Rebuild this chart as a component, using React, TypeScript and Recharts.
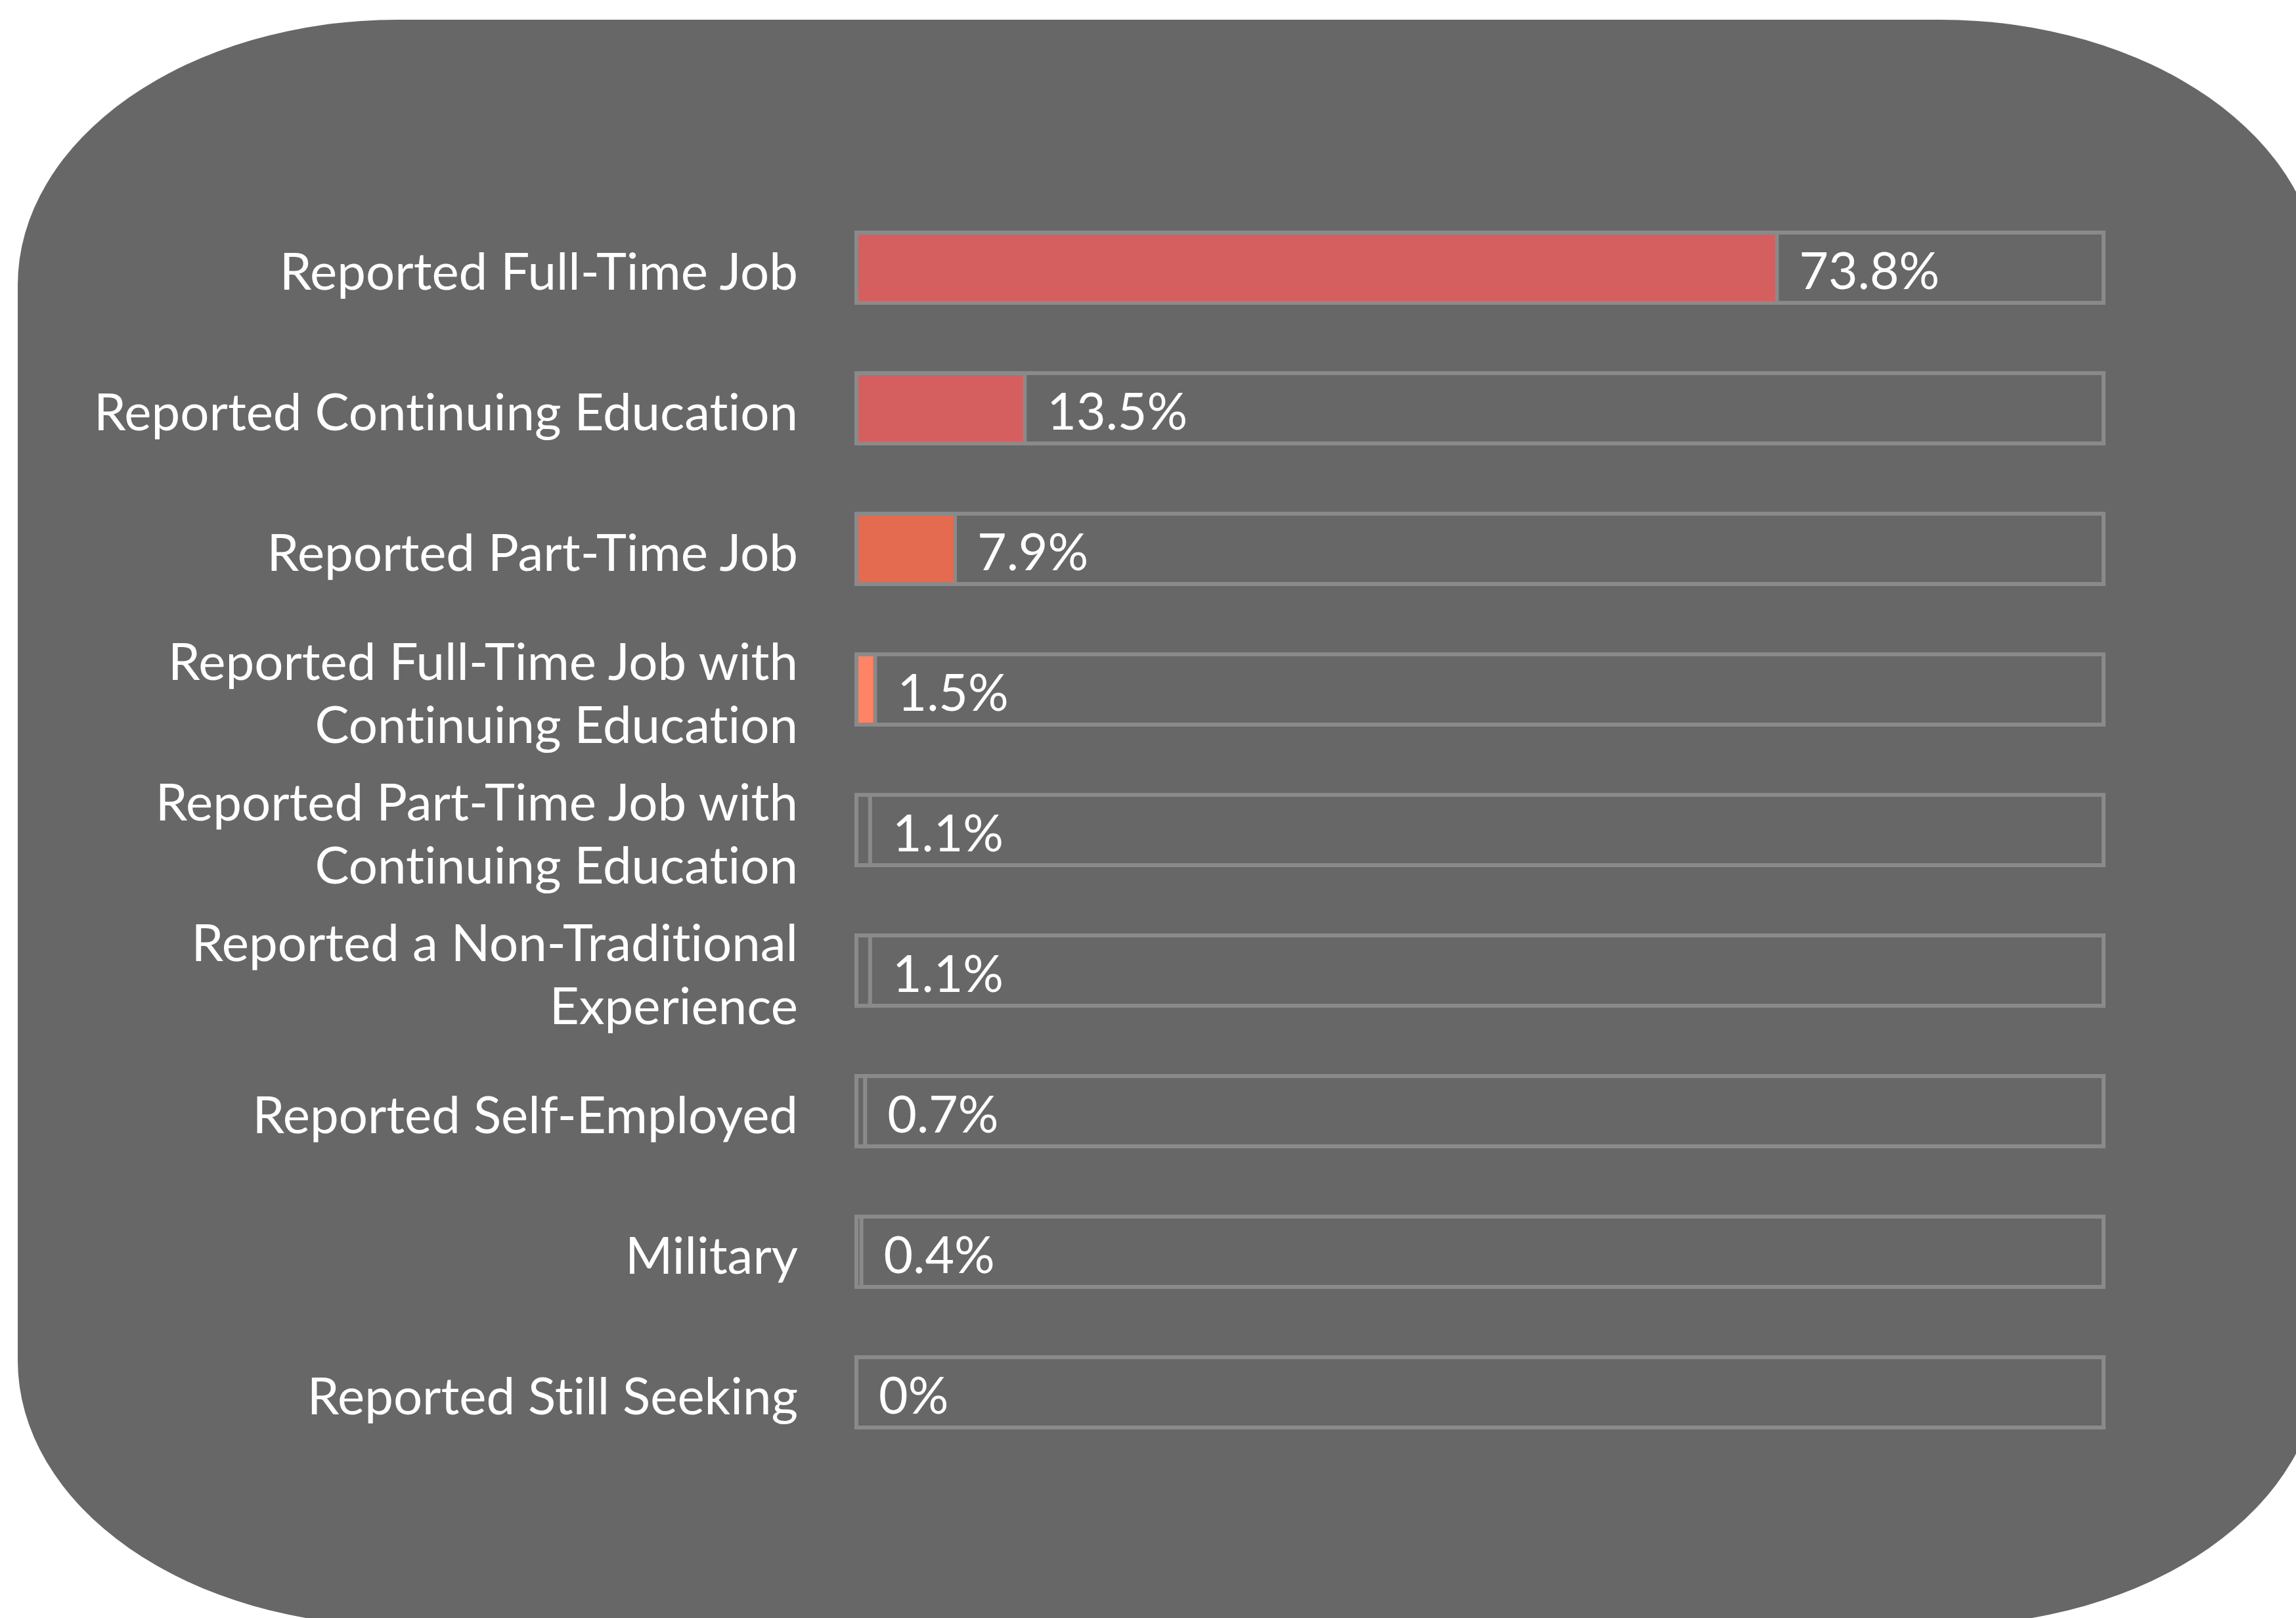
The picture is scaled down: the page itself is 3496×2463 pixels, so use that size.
import React from 'react';
import { BarChart, Bar, XAxis, YAxis, Cell, LabelList } from 'recharts';

const categories = [
  'Reported Full-Time Job',
  'Reported Continuing Education',
  'Reported Part-Time Job',
  'Reported Full-Time Job with Continuing Education',
  'Reported Part-Time Job with Continuing Education',
  'Reported a Non-Traditional Experience',
  'Reported Self-Employed',
  'Military',
  'Reported Still Seeking',
];
const percents = [73.8, 13.5, 7.9, 1.5, 1.1, 1.1, 0.7, 0.4, 0];
const barColors = ['#d55f5f', '#d55f5f', '#e46b4f', '#ff8466', '#676767', '#676767', '#676767', '#676767', '#676767'];

const data = categories.map((name, i) => ({ name, value: percents[i] }));

const PANEL = '#676767';
const OUTLINE = '#8a8a8a';
const LABEL_FONT = 78;
const LINE_HEIGHT = 96;
const WRAP_WIDTH = 1180;

let ctx: CanvasRenderingContext2D | null = null;
const measure = (s: string) => {
  if (!ctx) ctx = document.createElement('canvas').getContext('2d');
  if (!ctx) return s.length * LABEL_FONT * 0.5;
  ctx.font = `${LABEL_FONT}px Lato`;
  return ctx.measureText(s).width;
};

// greedy word wrap, same as the original tool did for long categories
const wrapLabel = (s: string) => {
  const lines: string[] = [];
  let cur = '';
  s.split(' ').forEach((w) => {
    const next = cur ? `${cur} ${w}` : w;
    if (cur && measure(next) > WRAP_WIDTH) {
      lines.push(cur);
      cur = w;
    } else {
      cur = next;
    }
  });
  if (cur) lines.push(cur);
  return lines;
};

const CategoryTick = (props: any) => {
  const { x, y, payload } = props;
  const lines = wrapLabel(String(payload.value));
  const first = y - ((lines.length - 1) / 2) * LINE_HEIGHT + LABEL_FONT * 0.44;
  return (
    <text
      textAnchor="end"
      fill="#ffffff"
      fontSize={LABEL_FONT}
      fontFamily="Lato"
      style={{ fontVariantLigatures: 'none' }}
    >
      {lines.map((line, i) => (
        <tspan key={i} x={x} y={first + i * LINE_HEIGHT}>
          {line}
        </tspan>
      ))}
    </text>
  );
};

export default function App() {
  return (
    <div style={{ position: 'fixed', left: 0, top: 0, width: 3496, height: 2463, overflow: 'hidden', background: '#ffffff' }}>
      <div
        style={{
          position: 'absolute',
          left: 27,
          top: 30,
          width: 3506,
          height: 2445,
          background: PANEL,
          borderRadius: '579px / 404px',
        }}
      />
      <div style={{ position: 'absolute', left: 0, top: 0 }}>
        <BarChart
          layout="vertical"
          width={3496}
          height={2463}
          data={data}
          margin={{ top: 300, right: 293, bottom: 237, left: 0 }}
        >
          <XAxis type="number" domain={[0, 100]} hide />
          <YAxis
            type="category"
            dataKey="name"
            width={1304}
            interval={0}
            tickLine={false}
            axisLine={false}
            tickSize={0}
            tickMargin={89}
            tick={(p: any) => <CategoryTick {...p} />}
          />
          <Bar
            dataKey="value"
            barSize={107}
            minPointSize={0.01}
            stroke={OUTLINE}
            strokeWidth={6}
            background={{ fill: PANEL, stroke: OUTLINE, strokeWidth: 6 }}
            isAnimationActive={false}
          >
            {data.map((d, i) => (
              <Cell key={`cell-${i}`} fill={barColors[i]} />
            ))}
            <LabelList
              dataKey="value"
              position="right"
              offset={34}
              dy={5}
              formatter={(v: any) => `${v}%`}
              fill="#ffffff"
              fontSize={77}
              fontFamily="Lato"
            />
          </Bar>
        </BarChart>
      </div>
    </div>
  );
}
